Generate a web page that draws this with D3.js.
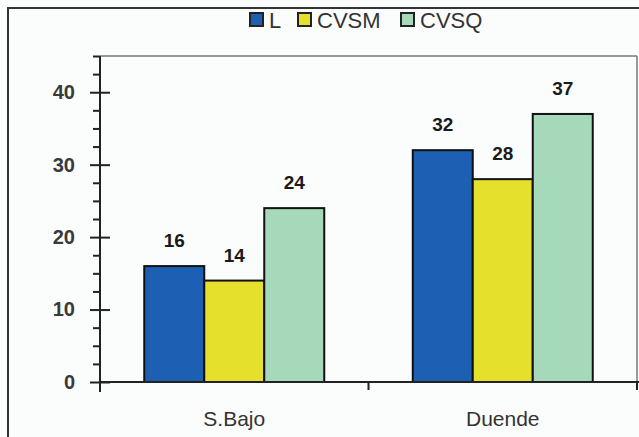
<!DOCTYPE html>
<html><head><meta charset="utf-8">
<script src="https://cdn.jsdelivr.net/npm/d3@7"></script>
<style>body{margin:0;background:#fff}svg{display:block}</style>
</head><body>
<svg id="c" width="639" height="437"></svg>
<script>
const categories = ["S.Bajo", "Duende"];
const seriesNames = ["L", "CVSM", "CVSQ"];
const seriesL = [16, 32];
const seriesCVSM = [14, 28];
const seriesCVSQ = [24, 37];
const yMajorTicks = [0, 10, 20, 30, 40];
const colors = ["#1d5fb2", "#e4e02c", "#a6d9b9"];

(function () {
const values = [seriesL, seriesCVSM, seriesCVSQ];
const svg = d3.select("#c");
const W = 639, H = 437;
const pLeft = 100, pRight = 637, pTop = 56, pBottom = 382;
const FONT = "Liberation Sans, Arial, sans-serif";

svg.append("rect").attr("width", W).attr("height", H).attr("fill", "#fbfcfc");
svg.append("rect").attr("x", 8).attr("y", 8).attr("width", W + 10).attr("height", H + 10)
  .attr("fill", "none").attr("stroke", "#333").attr("stroke-width", 2);

const x = d3.scaleBand().domain(categories).range([pLeft, pRight]);
const groupW = 180;
const x1 = d3.scaleBand().domain(seriesNames).range([0, groupW]);
const y = d3.scaleLinear().domain([0, 45]).range([pBottom, pTop]);

svg.append("line").attr("x1", pLeft).attr("x2", pRight).attr("y1", pTop).attr("y2", pTop)
  .attr("stroke", "#777").attr("stroke-width", 1.5);
svg.append("line").attr("x1", pRight).attr("x2", pRight).attr("y1", pTop).attr("y2", pBottom)
  .attr("stroke", "#777").attr("stroke-width", 1.5);

const g = svg.append("g");
categories.forEach((c, ci) => {
  const off = x(c) + (x.bandwidth() - groupW) / 2;
  seriesNames.forEach((s, si) => {
    const v = values[si][ci];
    g.append("rect")
      .attr("x", off + x1(s)).attr("y", y(v))
      .attr("width", x1.bandwidth()).attr("height", y(0) - y(v))
      .attr("fill", colors[si]).attr("stroke", "#111").attr("stroke-width", 2);
    g.append("text")
      .attr("x", off + x1(s) + x1.bandwidth() / 2).attr("y", y(v) - 19)
      .attr("text-anchor", "middle")
      .attr("font-family", FONT)
      .attr("font-weight", "bold").attr("font-size", 19).attr("fill", "#1a1a1a")
      .text(v);
  });
});

const minor = d3.range(0, 45.01, 2.5).filter(v => v % 10 !== 0);
const yMinor = svg.append("g").attr("transform", `translate(${pLeft},0)`)
  .call(d3.axisLeft(y).tickValues(minor).tickSize(7).tickFormat(""));
yMinor.select(".domain").remove();
yMinor.selectAll("line").attr("stroke", "#222").attr("stroke-width", 2);
const yMaj = svg.append("g").attr("transform", `translate(${pLeft},0)`)
  .call(d3.axisLeft(y).tickValues(yMajorTicks).tickSize(10).tickPadding(15));
yMaj.select(".domain").remove();
yMaj.selectAll(".tick line").attr("x2", 10).attr("x1", -10).attr("stroke", "#222").attr("stroke-width", 2);
yMaj.selectAll("text").attr("font-family", FONT)
  .attr("font-size", 20).attr("font-weight", "bold").attr("fill", "#3a3a3a");
svg.append("line").attr("x1", pLeft).attr("x2", pLeft).attr("y1", pTop).attr("y2", pBottom + 10)
  .attr("stroke", "#222").attr("stroke-width", 2);

const xa = svg.append("g").attr("transform", `translate(0,${pBottom})`)
  .call(d3.axisBottom(x).tickSize(0).tickPadding(29));
xa.select(".domain").remove();
xa.selectAll("text").attr("font-family", FONT)
  .attr("font-size", 21).attr("fill", "#333");
svg.append("line").attr("x1", pLeft).attr("x2", W).attr("y1", pBottom).attr("y2", pBottom)
  .attr("stroke", "#222").attr("stroke-width", 2);
[pLeft, x("Duende"), pRight].forEach(t => {
  svg.append("line").attr("x1", t).attr("x2", t).attr("y1", pBottom).attr("y2", pBottom + 8)
    .attr("stroke", "#222").attr("stroke-width", 2);
});

const legendPos = [250, 298, 401];
const leg = svg.append("g");
seriesNames.forEach((s, i) => {
  leg.append("rect").attr("x", legendPos[i]).attr("y", 13).attr("width", 13).attr("height", 13)
    .attr("fill", colors[i]).attr("stroke", "#222").attr("stroke-width", 2);
  leg.append("text").attr("x", legendPos[i] + 19).attr("y", 28)
    .attr("font-family", FONT).attr("font-size", 22)
    .attr("fill", "#333").text(s);
});
})();
</script>
</body></html>
